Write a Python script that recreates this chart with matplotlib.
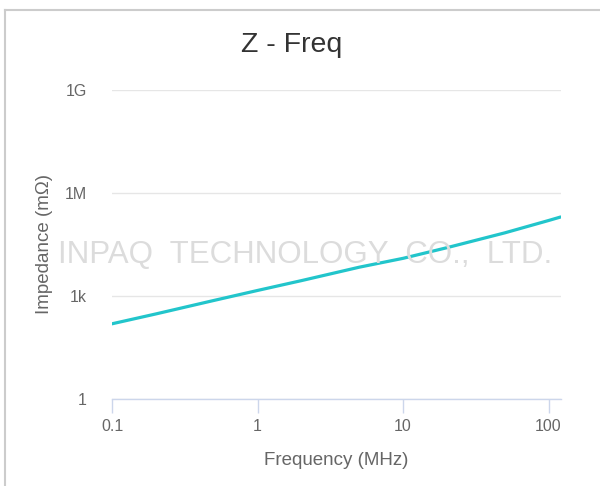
import matplotlib
matplotlib.use('Agg')
import matplotlib.pyplot as plt
from matplotlib.lines import Line2D
import numpy as np

plt.rcParams['font.family'] = ['Liberation Sans', 'DejaVu Sans']

# Impedance vs frequency
freq_mhz = [0.1, 0.2, 0.5, 1, 2, 5, 10, 20, 50, 100, 121]
impedance_mohm = [155, 300, 740, 1450, 2800, 6900, 12500, 25500, 69000, 158000, 200000]

x_ticks = [0.1, 1, 10, 100]
x_labels = ['0.1', '1', '10', '100']
y_ticks = [1, 1e3, 1e6, 1e9]
y_labels = ['1', '1k', '1M', '1G']

W, H = 600, 486
fig = plt.figure(figsize=(W / 100, H / 100), dpi=100)

# card borders of the screenshot
fig.add_artist(Line2D([4.5 / W, 4.5 / W], [0, 1 - 10 / H], color='#cccccc', lw=1.5))
fig.add_artist(Line2D([4.5 / W, 1], [1 - 10 / H, 1 - 10 / H], color='#cccccc', lw=1.5))

left, right, top, bottom = 112, 560.6, 90, 399
ax = fig.add_axes([left / W, 1 - bottom / H, (right - left) / W, (bottom - top) / H])

# watermark
fig.text(305 / W, 1 - 255 / H, 'INPAQ  TECHNOLOGY  CO.,  LTD.', ha='center', va='center',
         fontsize=22.5, color='#dcdcdc', zorder=0)

ax.plot(freq_mhz, impedance_mohm, color='#22c5cb', lw=2.3, solid_capstyle='round', zorder=3)

ax.set_xscale('log')
ax.set_yscale('log')
ax.set_xlim(0.1, 121)
ax.set_ylim(1, 1e9)
ax.patch.set_alpha(0)

ax.set_xticks(x_ticks)
ax.set_xticklabels(x_labels)
ax.set_yticks(y_ticks)
ax.set_yticklabels(y_labels)
ax.minorticks_off()

ax.grid(axis='y', color='#e6e6e6', lw=1)
for s in ['top', 'right', 'left']:
    ax.spines[s].set_visible(False)
ax.spines['bottom'].set_color('#ccd6eb')
ax.spines['bottom'].set_linewidth(1)

ax.tick_params(axis='x', length=10, width=1, color='#ccd6eb', labelcolor='#666666',
               labelsize=11.5, pad=4.5)
ax.tick_params(axis='y', length=0, labelcolor='#666666', labelsize=11.5, pad=18)

ax.set_xlabel('Frequency (MHz)', fontsize=13.5, color='#666666', labelpad=13)
ax.set_ylabel('Impedance (mΩ)', fontsize=13.5, color='#666666', labelpad=8.5)

fig.text(292 / W, 1 - 45 / H, 'Z - Freq', ha='center', va='center', fontsize=20.5, color='#333333')

fig.savefig('out.png', dpi=100)
